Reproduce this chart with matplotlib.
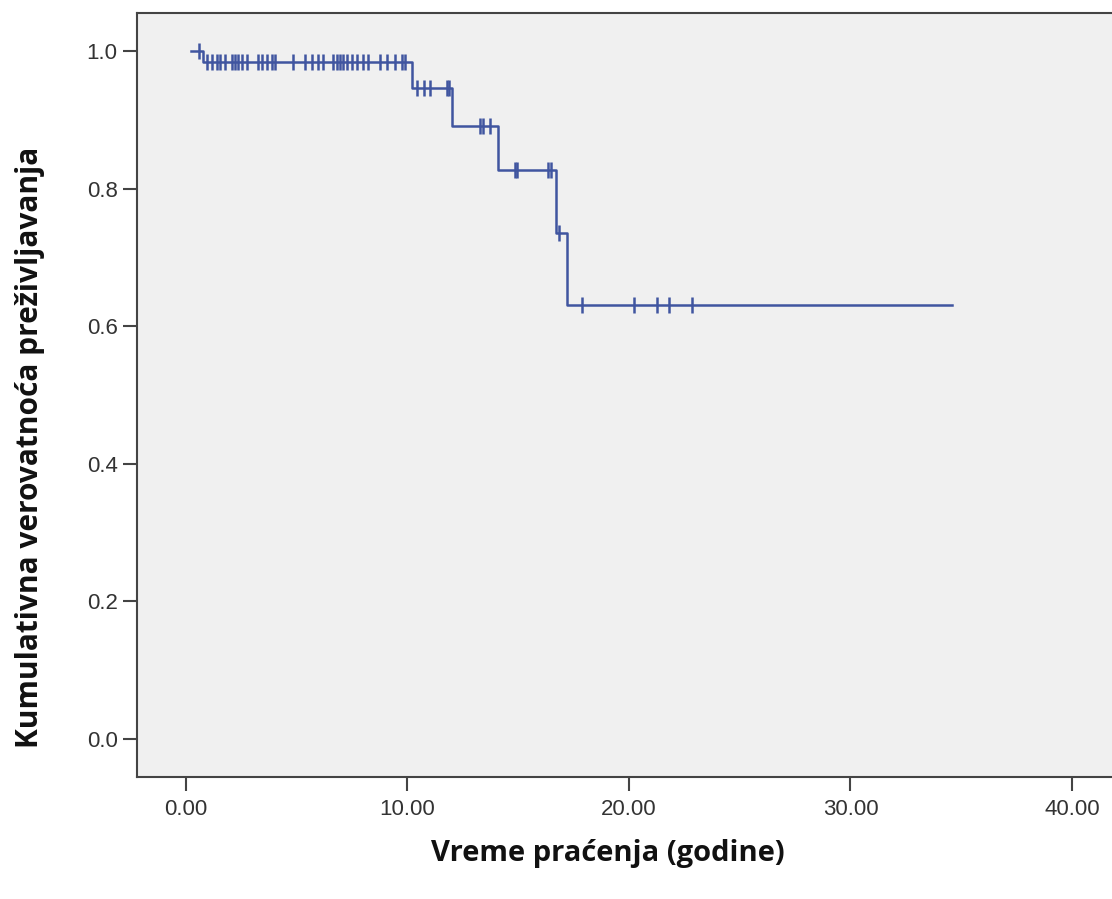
import numpy as np
import matplotlib.pyplot as plt

# Kaplan-Meier: vremena dogadjaja i nivoi prezivljavanja
start_time = 0.25
end_time = 34.6
event_times = [0.8, 10.2, 12.0, 14.1, 16.7, 17.2]
survival = [1.0, 0.984, 0.946, 0.891, 0.827, 0.736, 0.631]

# cenzurisani slucajevi
censor_times = [0.6,
                0.95, 1.18, 1.41, 1.56, 1.78, 2.08, 2.23, 2.38, 2.53, 2.76,
                3.28, 3.44, 3.66, 3.89, 4.04, 4.86, 5.39, 5.69, 5.99, 6.22,
                6.67, 6.82, 6.97, 7.12, 7.27, 7.50, 7.72, 8.02, 8.25, 8.77,
                9.08, 9.45, 9.75, 9.90,
                10.45, 10.75, 11.05, 11.78, 11.9,
                13.28, 13.43, 13.73,
                14.86, 14.97, 16.37, 16.47,
                16.85,
                17.87, 20.25, 21.25, 21.8, 22.86]

xticks = [0, 10, 20, 30, 40]
xtick_labels = ["0.00", "10.00", "20.00", "30.00", "40.00"]
yticks = [0.0, 0.2, 0.4, 0.6, 0.8, 1.0]
ytick_labels = ["0.0", "0.2", "0.4", "0.6", "0.8", "1.0"]

line_color = "#4055a0"

fig = plt.figure(figsize=(11.12, 8.99), dpi=100)
ax = fig.add_axes([0.1232, 0.1357, 0.8768, 0.8498])
ax.set_facecolor("#f0f0f0")

x = np.array([start_time] + event_times + [end_time])
y = np.append(survival, survival[-1])
ax.step(x, y, where="post", color=line_color, lw=1.8)

# y vrednost cenzure = nivo krive u tom trenutku
bk = np.array([start_time] + event_times)
idx = np.searchsorted(bk, censor_times, side="right") - 1
cy = np.array(survival)[idx]
ax.plot(censor_times, cy, ls="none", marker="|", ms=12, mew=1.8, color=line_color)

ax.set_xlim(-2.19, 41.8)
ax.set_ylim(-0.055, 1.055)
ax.set_xticks(xticks)
ax.set_xticklabels(xtick_labels)
ax.set_yticks(yticks)
ax.set_yticklabels(ytick_labels)

for s in ["left", "bottom", "top"]:
    ax.spines[s].set_color("#444444")
    ax.spines[s].set_linewidth(1.5)
ax.spines["right"].set_visible(False)

ax.tick_params(axis="both", direction="out", length=10, width=1.5, color="#444444",
               labelsize=16, labelcolor="#333333")
ax.tick_params(axis="x", pad=6)
ax.tick_params(axis="y", pad=4)
for t in ax.get_xticklabels() + ax.get_yticklabels():
    t.set_fontfamily("Liberation Sans")

fig.text(0.547, 0.051, "Vreme praćenja (godine)", ha="center", va="center",
         fontsize=21, fontweight="bold", family="Open Sans", color="#111111")
fig.text(0.027, 0.502, "Kumulativna verovatnoća preživljavanja", ha="center", va="center",
         rotation=90, fontsize=21.5, fontweight="bold", family="Open Sans", color="#111111")

fig.savefig("out.png", dpi=100)
